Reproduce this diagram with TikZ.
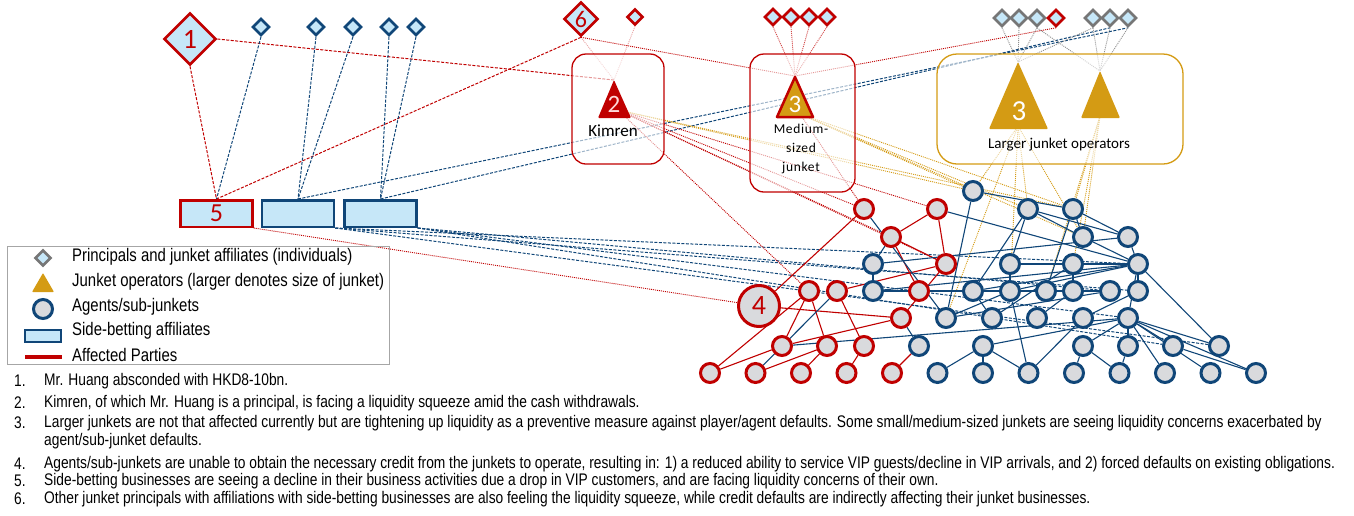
\documentclass[tikz,border=0pt]{standalone}
\usepackage{fontspec}
\setmainfont{Liberation Sans}
\newfontfamily\narrowfont[FakeStretch=0.82]{Liberation Sans}
\newfontfamily\calfont{Carlito}
\usetikzlibrary{shapes.geometric,backgrounds}
\definecolor{cred}{RGB}{192,0,0}
\definecolor{dblue}{RGB}{16,70,120}
\definecolor{lblue}{RGB}{198,231,248}
\definecolor{cgray}{RGB}{217,218,221}
\definecolor{gold}{RGB}{212,155,20}
\definecolor{dgray}{RGB}{118,118,118}
\newcommand{\lgf}{\narrowfont\fontsize{18.2}{20}\selectfont}
\newcommand{\ntf}{\narrowfont\fontsize{16.8}{18}\selectfont}
\newcommand{\numf}[1]{\calfont\fontsize{#1}{#1}\selectfont}
\tikzset{
  dia/.style={diamond, draw=dblue, line width=2.6pt, fill=lblue, inner sep=0pt, aspect=1, minimum size=#1},
  ag/.style={circle, draw=dblue, line width=3pt, fill=cgray, minimum size=19pt, inner sep=0pt},
  agr/.style={ag, draw=cred},
  sbox/.style={rectangle, draw=dblue, line width=2.5pt, fill=lblue, minimum width=72pt, minimum height=26.5pt, inner sep=0pt},
  be/.style={dblue, line width=1.1pt},
  re/.style={cred, line width=1.1pt},
  bdash/.style={dblue, line width=1pt, dash pattern=on 3pt off 1.5pt},
  rdash/.style={cred, line width=1pt, dash pattern=on 3pt off 1.5pt},
  rdot/.style={cred, line width=0.9pt, dash pattern=on 1pt off 1pt},
  rfaint/.style={cred!35, line width=0.9pt, dash pattern=on 1pt off 1pt},
  gdot/.style={gold, line width=0.9pt, dash pattern=on 1pt off 1pt},
  gydot/.style={dgray!80, line width=0.9pt, dash pattern=on 1pt off 1pt},
  jbox/.style={rounded corners=14pt, line width=1.3pt, fill=white, fill opacity=0.6},
  lg/.style={anchor=west, inner sep=0pt, font=\lgf},
  nt/.style={anchor=west, inner sep=0pt, font=\ntf},
}
\begin{document}
\begin{tikzpicture}[x=1pt,y=-1pt]
\useasboundingbox (0,0) rectangle (1354,515);

% ---------- top individuals ----------
\node[dia=52pt, draw=cred, text=cred, font=\numf{28}] (dm1) at (190,39) {1};
\foreach \n/\x in {sd1/261, sd2/316, sd3/353, sd4/389, sd5/416}
  \node[dia=17pt] (\n) at (\x,27) {};
\node[dia=34pt, draw=cred, text=cred, font=\numf{24}] (dm6) at (581,19) {6};
\node[dia=16pt, draw=cred] (sd6) at (635,17) {};
\foreach \n/\x in {md1/773, md2/791, md3/809, md4/827}
  \node[dia=17pt, draw=cred] (\n) at (\x,17) {};
\foreach \n/\x in {gd1/1002, gd2/1019, gd3/1037}
  \node[dia=17pt, draw=dgray] (\n) at (\x,18) {};
\node[dia=17pt, draw=cred] (gd4) at (1056,18) {};
\foreach \n/\x in {gd5/1093, gd6/1110, gd7/1128}
  \node[dia=17pt, draw=dgray] (\n) at (\x,18) {};

% ---------- side-betting affiliates ----------
\node[sbox, draw=cred, text=cred, font=\numf{26}] (sb5) at (216.5,213.5) {5};
\node[sbox] (sbB) at (298,213.5) {};
\node[sbox] (sbC) at (380.5,213.5) {};

% ---------- junket boxes ----------
\draw[jbox, draw=cred] (572,54) rectangle (664,164);
\draw[jbox, draw=cred] (750,54) rectangle (855,192);
\draw[jbox, draw=gold, rounded corners=20pt] (937,54) rectangle (1183,164);

\fill[cred, rounded corners=1pt] (614,80) -- (631,118) -- (598,118) -- cycle;
\node[text=red!15!white, font=\numf{25}] (t2) at (614,104) {2};
\node[font=\numf{17}] (kimt) at (613,131) {Kimren};
\coordinate (kimA) at (614,80);
\coordinate (kimC) at (618,110);

\draw[fill=gold, draw=cred, line width=2.5pt, line join=round] (795,77) -- (813,117) -- (777,117) -- cycle;
\node[text=white, font=\numf{25}] (t3m) at (795,104) {3};
\node[font=\calfont\fontsize{13.5}{19}\selectfont\addfontfeature{LetterSpace=5}, align=center] (medt) at (801,149) {Medium-\\sized\\junket};
\coordinate (medA) at (795,76);
\coordinate (medC) at (800,114);

\fill[gold, rounded corners=1pt] (1018,62) -- (1048,129) -- (989,129) -- cycle;
\node[text=white, font=\numf{29}] (t3b) at (1019,111) {3};
\fill[gold, rounded corners=1pt] (1100,71) -- (1120,118) -- (1081,118) -- cycle;
\node[font=\numf{15}] (lgt) at (1059,145) {Larger junket operators};
\coordinate (bigA) at (1018,62);
\coordinate (bigC) at (1018,126);
\coordinate (smA) at (1100,71);
\coordinate (smC) at (1100,116);

% ---------- agents / sub-junkets ----------
\node[ag] (cA1) at (973,191) {};
\node[agr] (cB1) at (864,209) {};
\node[agr] (cB2) at (937,209) {};
\node[ag] (cB3) at (1028,209) {};
\node[ag] (cB4) at (1073,209) {};
\node[agr] (cC1) at (891,237) {};
\node[ag] (cC2) at (1083,237) {};
\node[ag] (cC3) at (1128,237) {};
\node[ag] (cD1) at (873,264) {};
\node[agr] (cD2) at (946,264) {};
\node[ag] (cD3) at (1010,264) {};
\node[ag] (cD4) at (1073,264) {};
\node[ag] (cD5) at (1138,264) {};
\node[agr] (cE1) at (809,291) {};
\node[agr] (cE2) at (837,291) {};
\node[ag] (cE3) at (873,291) {};
\node[agr] (cE4) at (919,291) {};
\node[ag] (cE5) at (973,291) {};
\node[ag] (cE6) at (1010,291) {};
\node[ag] (cE7) at (1046,291) {};
\node[ag] (cE8) at (1073,291) {};
\node[ag] (cE9) at (1110,291) {};
\node[ag] (cE10) at (1138,291) {};
\node[agr] (cF1) at (901,318) {};
\node[ag] (cF2) at (946,318) {};
\node[ag] (cF3) at (992,318) {};
\node[ag] (cF4) at (1037,318) {};
\node[ag] (cF5) at (1083,318) {};
\node[ag] (cF6) at (1128,318) {};
\node[agr] (cG1) at (782,346) {};
\node[agr] (cG2) at (827,346) {};
\node[agr] (cG3) at (864,346) {};
\node[ag] (cG4) at (919,346) {};
\node[ag] (cG5) at (983,346) {};
\node[ag] (cG6) at (1083,346) {};
\node[ag] (cG7) at (1128,346) {};
\node[ag] (cG8) at (1173,346) {};
\node[ag] (cG9) at (1219,346) {};
\foreach \i in {1,...,5}
  \node[agr] (cH\i) at ({710+45.5*(\i-1)},373) {};
\foreach \i in {6,...,13}
  \node[ag] (cH\i) at ({710+45.5*(\i-1)},373) {};
\node[agr, minimum size=41pt, text=cred, font=\numf{28}] (big4) at (759,306) {4};

% ---------- connectors ----------
\begin{scope}[on background layer]
  % individuals
  \draw[rdash] (dm1.east) -- (kimA);
  \draw[rdash] (dm1.south) -- (sb5.north);
  \draw[rdash] (dm6.south) -- (sb5.north);
  \draw[bdash] (sd1.south) -- (sb5.north);
  \draw[bdash] (sd2.south) -- (sbB.north);
  \draw[bdash] (sd3.south) -- (sbB.north);
  \draw[bdash] (sd4.south) -- (sbC.north);
  \draw[bdash] (sd5.south) -- (sbC.north);
  \draw[bdash] (sbB.north) -- (gd7.south);
  \draw[bdash] (sbC.north) -- (gd6.south);
  \draw[rfaint] (dm6.south) -- (kimA);
  \draw[rfaint] (sd6.south) -- (kimA);
  \draw[rdot] (dm6.south) -- (medA);
  \draw[rdot] (gd4.south) -- (medA);
  \foreach \d in {md1,md2,md3,md4} \draw[rdot, cred!70] (\d.south) -- (medA);
  \foreach \d in {gd1,gd2,gd3,gd5} \draw[gydot] (\d.south) -- (bigA);
  \foreach \d in {gd3,gd5,gd6,gd7} \draw[gydot] (\d.south) -- (smA);
  % side betting to network
  \draw[rdot] (sb5.south east) -- (big4);
  \foreach \t in {cD5,cE10} \draw[bdash] (sbB.south east) -- (\t);
  \draw[bdash] (sbB.south east) -- (cG9);
  \foreach \t in {cF6,cG8,cE9} \draw[bdash] (sbC.south east) -- (\t);
  % junkets to agents
  \foreach \t in {cB1,cB2,cC1,cD2,cE1} \draw[rdot] (kimC) -- (\t);
  \draw[rdot] (medC) -- (cB1);
  \foreach \t in {cA1,cB4} \draw[gdot] (kimC) -- (\t);
  \foreach \t in {cA1,cB3,cC2,cB4} \draw[gdot] (medC) -- (\t);
  \foreach \t in {cA1,cF2,cE6,cB3,cC2} \draw[gdot] (bigC) -- (\t);
  \foreach \t in {cB4,cE7,cC2,cD4} \draw[gdot] (smC) -- (\t);
  % red agent links
  \draw[re] (cB1) -- (big4);
  \draw[re] (cB2) -- (cC1);
  \draw[re] (cB2) -- (cD2);
  \draw[re] (cC1) -- (cD2);
  \draw[re] (cC1) -- (cE4);
  \draw[re] (cD2) -- (cE2);
  \draw[re] (cD2) -- (cF1);
  \draw[re] (big4) -- (cF1);
  \draw[re] (cE1) -- (cG1);
  \draw[re] (cE1) -- (cG2);
  \draw[re] (cE1) -- (cH1);
  \draw[re] (cG1) -- (cH1);
  \draw[re] (cG2) -- (cH2);
  \draw[re] (cG2) -- (cH3);
  \draw[re] (cE2) -- (cG3);
  \draw[re] (cG3) -- (cH4);
  \draw[re] (cF1) -- (cG1);
  \draw[re] (cG4) -- (cH5);
  % blue agent links
  \foreach \a/\b in {cB1/cF2, cC1/cD1, cD1/cC3, cE2/cH2, cG1/cF6, cG4/cF1,
                     cA1/cB4, cA1/cF2, cB2/cD5, cB3/cC2, cB3/cE5, cB3/cD3, cB3/cC3,
                     cB4/cC3, cB4/cE7, cB4/cC2, cC2/cD5, cC3/cD5, cD5/cF6, cD5/cE5,
                     cD5/cE3, cD5/cG9, cD3/cD5, cE6/cD5, cF6/cG8, cF6/cG9, cF6/cG6,
                     cF6/cH11, cF6/cH12, cF6/cH13, cF5/cH8, cE6/cH8, cG5/cH6, cG5/cH7,
                     cG5/cH8, cG6/cH9, cG6/cH10, cG8/cH13, cG7/cH10, cF2/cE6, cF2/cE9,
                     cE3/cE9, cF3/cD4, cF4/cE8, cE5/cF3, cF5/cE10, cG5/cF6}
    \draw[be] (\a) -- (\b);
  \foreach \a/\b in {cD1/cE3, cD3/cE6, cD4/cE8, cD5/cE10, cF6/cG7}
    \draw[be, line width=2.6pt] (\a) -- (\b);
\end{scope}

% ---------- legend ----------
\draw[draw=black!35, line width=1pt] (7,246) rectangle (389,364);
\node[dia=16pt, draw=dgray] (lg1) at (43,258) {};
\fill[gold, rounded corners=0.8pt] (43,273) -- (54,292) -- (32,292) -- cycle;
\coordinate (lg2) at (43,284);
\node[ag] (lg3) at (43,309) {};
\node[sbox, minimum width=36pt, minimum height=12pt] (lg4) at (43,336) {};
\draw[cred, line width=3.5pt] (25,357) -- (62,357);
\node[lg] (lt1) at (72,257) {Principals and junket affiliates (individuals)};
\node[lg] (lt2) at (72,282) {Junket operators (larger denotes size of junket)};
\node[lg] (lt3) at (72,307) {Agents/sub-junkets};
\node[lg] (lt4) at (72,331) {Side-betting affiliates};
\node[lg] (lt5) at (72,355) {Affected Parties};

% ---------- notes ----------
\foreach \k/\y in {1/381, 2/403, 3/423, 4/464, 5/481, 6/499}
  \node[nt] (nn\k) at (14,\y) {\k.};
\node[nt] (n1) at (44,381) {Mr. Huang absconded with HKD8-10bn.};
\node[nt] (n2) at (44,403) {Kimren, of which Mr. Huang is a principal, is facing a liquidity squeeze amid the cash withdrawals.};
\node[nt] (n3) at (44,423) {Larger junkets are not that affected currently but are tightening up liquidity as a preventive measure against player/agent defaults. Some small/medium-sized junkets are seeing liquidity concerns exacerbated by};
\node[nt] (n3b) at (44,441) {agent/sub-junket defaults.};
\node[nt] (n4) at (44,464) {Agents/sub-junkets are unable to obtain the necessary credit from the junkets to operate, resulting in: 1) a reduced ability to service VIP guests/decline in VIP arrivals, and 2) forced defaults on existing obligations.};
\node[nt] (n5) at (44,481) {Side-betting businesses are seeing a decline in their business activities due a drop in VIP customers, and are facing liquidity concerns of their own.};
\node[nt] (n6) at (44,499) {Other junket principals with affiliations with side-betting businesses are also feeling the liquidity squeeze, while credit defaults are indirectly affecting their junket businesses.};
\end{tikzpicture}
\end{document}
